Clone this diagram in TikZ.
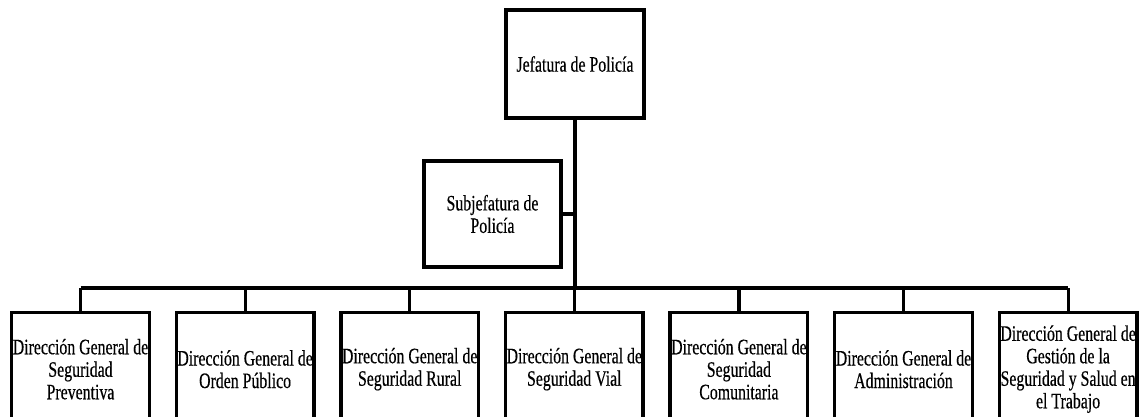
\documentclass[tikz,border=0pt]{standalone}
\usepackage{fontspec}
\setmainfont{Liberation Serif}[FakeStretch=0.72,FakeBold=0.4]
\begin{document}
\begin{tikzpicture}[x=1pt,y=-1pt,
  box/.style={draw,line width=3.4pt,align=center,inner sep=1pt,
    font=\fontsize{22}{22.5}\selectfont},
  topbox/.style={box,minimum width=138pt,minimum height=108pt},
  unitbox/.style={box,minimum width=137pt,minimum height=113pt,anchor=north},
  conn/.style={line width=3.2pt}]
\useasboundingbox (0,0) rectangle (1142,416);
\node[topbox] (jef) at (575,64) {Jefatura de Policía};
\node[topbox,minimum width=137pt,minimum height=106pt] (sub) at (492.5,214) {Subjefatura de\\Policía};
\coordinate (bus) at (575,288);
\node[unitbox] (d1) at (80.5,311) {Dirección General de\\Seguridad\\Preventiva};
\node[unitbox] (d2) at (245.1,311) {Dirección General de\\Orden Público};
\node[unitbox] (d3) at (409.7,311) {Dirección General de\\Seguridad Rural};
\node[unitbox] (d4) at (574.3,311) {Dirección General de\\Seguridad Vial};
\node[unitbox] (d5) at (738.9,311) {Dirección General de\\Seguridad\\Comunitaria};
\node[unitbox] (d6) at (903.5,311) {Dirección General de\\Administración};
\node[unitbox] (d7) at (1068.1,311) {Dirección General de\\Gestión de la\\Seguridad y Salud en\\el Trabajo};
\draw[conn] (jef.south) -- (bus);
\draw[conn] (sub.east) -- (sub.east -| jef.south);
\draw[conn] (d1.north |- bus) -- (d7.north |- bus);
\foreach \n in {d1,d2,d3,d4,d5,d6,d7} \draw[conn] (\n.north) -- (\n.north |- bus);
\end{tikzpicture}
\end{document}
